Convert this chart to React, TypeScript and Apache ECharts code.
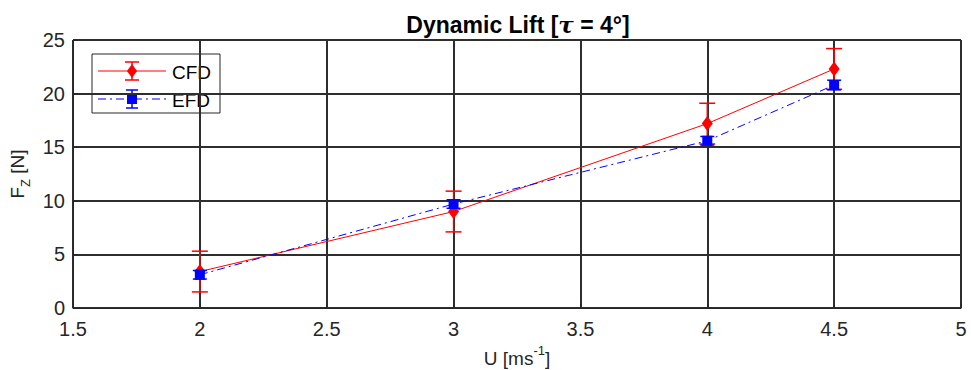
import React, { useEffect, useRef } from "react";
import * as echarts from "echarts";

// Flow speed U [m/s]
const speeds = [2, 3, 4, 4.5];
// CFD lift and its uncertainty [N]
const cfdLift = [3.4, 9.0, 17.2, 22.3];
const cfdErr = [1.9, 1.9, 1.9, 1.9];
// EFD lift and its uncertainty [N]
const efdLift = [3.1, 9.7, 15.6, 20.8];
const efdErr = [0.4, 0.4, 0.4, 0.45];

const xTicks = { min: 1.5, max: 5, interval: 0.5 };
const yTicks = { min: 0, max: 25, interval: 5 };

const RED = "#ff0000";
const BLUE = "#0000ff";
const AXIS = "#262626";
const FONT = "'Liberation Sans', Arial, Helvetica, sans-serif";

function errorBarSeries(name: string, vals: number[], errs: number[], color: string, cap: number, z: number) {
  return {
    type: "custom",
    name,
    z,
    silent: true,
    data: speeds.map((x, i) => [x, vals[i] - errs[i], vals[i] + errs[i]]),
    renderItem: (_p: any, api: any) => {
      const x = api.value(0);
      const top = api.coord([x, api.value(2)]);
      const bot = api.coord([x, api.value(1)]);
      const st = { stroke: color, lineWidth: 1.5 };
      return {
        type: "group",
        children: [
          { type: "line", shape: { x1: top[0], y1: top[1], x2: bot[0], y2: bot[1] }, style: st },
          { type: "line", shape: { x1: top[0] - cap, y1: top[1], x2: top[0] + cap, y2: top[1] }, style: st },
          { type: "line", shape: { x1: bot[0] - cap, y1: bot[1], x2: bot[0] + cap, y2: bot[1] }, style: st },
        ],
      };
    },
  };
}

function legendGraphic() {
  const x0 = 92, y0 = 54, w = 128, h = 59;
  const r1 = 71, r2 = 99, mx = 132;
  return {
    type: "group",
    z: 100,
    children: [
      { type: "rect", shape: { x: x0, y: y0, width: w, height: h }, style: { fill: "#fff", stroke: AXIS, lineWidth: 1 } },
      // CFD entry
      { type: "line", shape: { x1: 98, y1: r1, x2: 166, y2: r1 }, style: { stroke: RED, lineWidth: 1 } },
      { type: "line", shape: { x1: mx, y1: r1 - 9, x2: mx, y2: r1 + 9 }, style: { stroke: RED, lineWidth: 1.5 } },
      { type: "line", shape: { x1: mx - 7, y1: r1 - 9, x2: mx + 7, y2: r1 - 9 }, style: { stroke: RED, lineWidth: 1.5 } },
      { type: "line", shape: { x1: mx - 7, y1: r1 + 9, x2: mx + 7, y2: r1 + 9 }, style: { stroke: RED, lineWidth: 1.5 } },
      { type: "polygon", shape: { points: [[mx, r1 - 7], [mx + 5, r1], [mx, r1 + 7], [mx - 5, r1]] }, style: { fill: RED } },
      { type: "text", style: { x: 172, y: r1 + 1, text: "CFD", fontSize: 19, fontFamily: FONT, fill: "#000", verticalAlign: "middle" } },
      // EFD entry
      { type: "line", shape: { x1: 98, y1: r2, x2: 166, y2: r2 }, style: { stroke: BLUE, lineWidth: 1, lineDash: [8, 4, 2, 4] } },
      { type: "line", shape: { x1: mx, y1: r2 - 9, x2: mx, y2: r2 + 9 }, style: { stroke: BLUE, lineWidth: 1.5 } },
      { type: "line", shape: { x1: mx - 6, y1: r2 - 9, x2: mx + 6, y2: r2 - 9 }, style: { stroke: BLUE, lineWidth: 1.5 } },
      { type: "line", shape: { x1: mx - 6, y1: r2 + 9, x2: mx + 6, y2: r2 + 9 }, style: { stroke: BLUE, lineWidth: 1.5 } },
      { type: "rect", shape: { x: mx - 5, y: r2 - 5, width: 10, height: 10 }, style: { fill: BLUE } },
      { type: "text", style: { x: 172, y: r2 + 1, text: "EFD", fontSize: 19, fontFamily: FONT, fill: "#000", verticalAlign: "middle" } },
    ],
  };
}

export default function App() {
  const ref = useRef<HTMLDivElement>(null);

  useEffect(() => {
    document.body.style.margin = "0";
    if (!ref.current) return;
    const chart = echarts.init(ref.current, undefined, { renderer: "svg" });

    const axisCommon = {
      axisLine: { show: true, lineStyle: { color: AXIS, width: 1 } },
      axisTick: { show: true, inside: true, length: 5, lineStyle: { color: AXIS } },
      splitLine: { show: true, lineStyle: { color: "#2e2e2e", width: 2 } },
      axisLabel: { color: "#262626", fontSize: 20, fontFamily: FONT },
    };

    const nameRich = (subVA: string, mainVA: string) => ({
      a: { fontSize: 19, fontFamily: FONT, color: "#262626", lineHeight: 24, verticalAlign: mainVA },
      s: { fontSize: 13, fontFamily: FONT, color: "#262626", lineHeight: 24, verticalAlign: subVA },
    });

    chart.setOption({
      animation: false,
      backgroundColor: "#fff",
      title: {
        text: "{b|Dynamic Lift [}{t|τ}{b| = 4°]}",
        left: 513,
        top: 8,
        textAlign: "center",
        textStyle: {
          rich: {
            b: { fontSize: 23, fontWeight: "bold", fontFamily: FONT, color: "#000" },
            t: { fontSize: 23, fontStyle: "italic", fontFamily: "'DejaVu Serif', serif", color: "#000" },
          },
        },
      },
      grid: {
        left: 73, right: 10, top: 40, bottom: 62,
        outerBoundsMode: "none",
        containLabel: false,
        show: true, borderColor: AXIS, borderWidth: 1, backgroundColor: "transparent",
      },
      xAxis: {
        type: "value",
        ...xTicks,
        ...axisCommon,
        axisLabel: { ...axisCommon.axisLabel, margin: 11 },
        name: "{a|U [ms}{s|-1}{a|]}",
        nameLocation: "middle",
        nameGap: 36,
        nameTextStyle: { rich: nameRich("top", "bottom") },
      },
      yAxis: {
        type: "value",
        ...yTicks,
        ...axisCommon,
        axisLabel: { ...axisCommon.axisLabel, margin: 8 },
        name: "{a|F}{s|Z}{a| [N]}",
        nameLocation: "middle",
        nameGap: 40,
        nameRotate: 90,
        nameTextStyle: { rich: nameRich("bottom", "top") },
      },
      series: [
        errorBarSeries("CFD err", cfdLift, cfdErr, RED, 8, 3),
        {
          type: "line",
          name: "CFD",
          z: 4,
          data: speeds.map((x, i) => [x, cfdLift[i]]),
          lineStyle: { color: RED, width: 1 },
          itemStyle: { color: RED },
          symbol: "diamond",
          symbolSize: [11, 15],
        },
        errorBarSeries("EFD err", efdLift, efdErr, BLUE, 7, 5),
        {
          type: "line",
          name: "EFD",
          z: 6,
          data: speeds.map((x, i) => [x, efdLift[i]]),
          lineStyle: { color: BLUE, width: 1, type: [8, 4, 2, 4] },
          itemStyle: { color: BLUE },
          symbol: "rect",
          symbolSize: 10,
        },
      ],
      graphic: [legendGraphic()],
    });

    return () => chart.dispose();
  }, []);

  return <div ref={ref} style={{ width: 971, height: 370 }} />;
}
